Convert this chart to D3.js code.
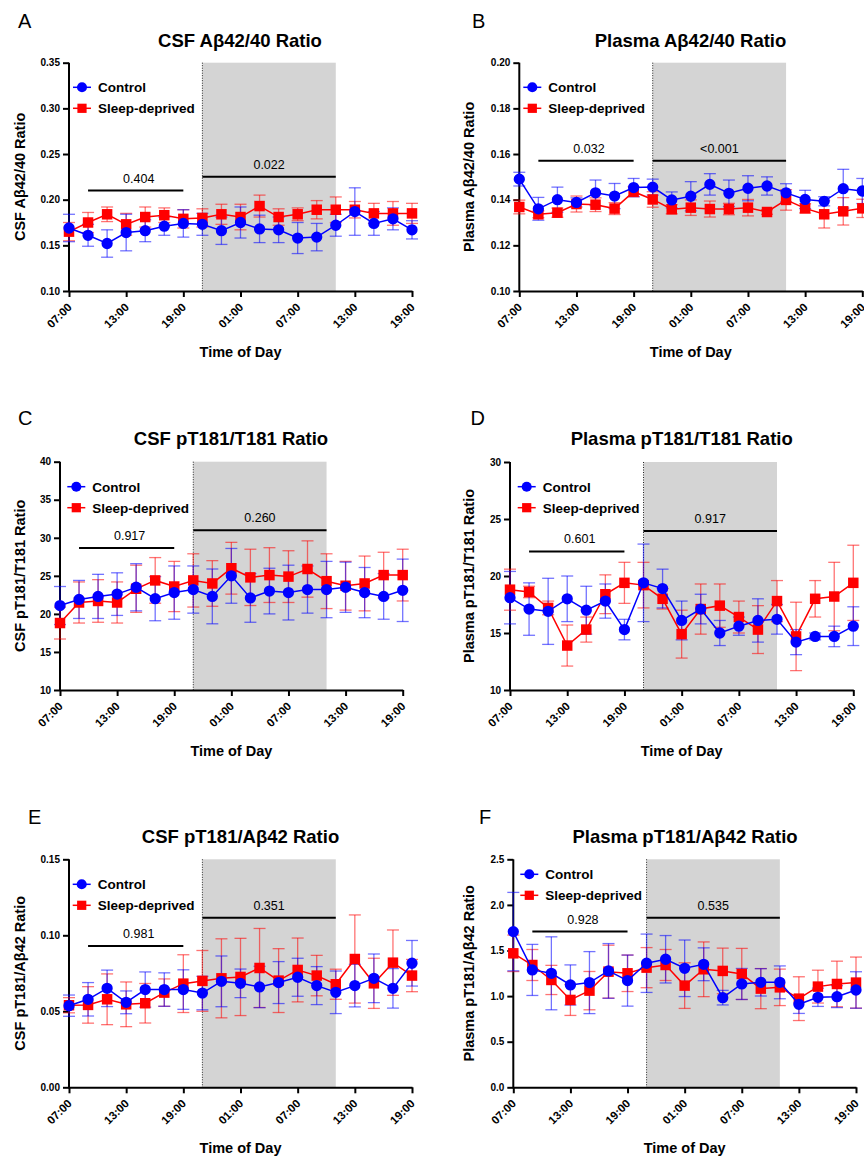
<!DOCTYPE html>
<html>
<head>
<meta charset="utf-8">
<script src="https://cdn.jsdelivr.net/npm/d3@7"></script>
<style>
  body { margin: 0; background: #fff; }
  text { font-family: "Liberation Sans", Arial, Helvetica, sans-serif; }
</style>
</head>
<body>
<svg id="fig" width="864" height="1157"></svg>
<script>
// hours since 07:00 on day 1, one sample every 2 h
var hours = [0, 2, 4, 6, 8, 10, 12, 14, 16, 18, 20, 22, 24, 26, 28, 30, 32, 34, 36]
var tickHours = [0, 6, 12, 18, 24, 30, 36]
var tickLabels = ['07:00', '13:00', '19:00', '01:00', '07:00', '13:00', '19:00']
var shadeHours = [14, 28]   // sleep-deprivation window
var leftBarHours = [2, 12]
var rightBarHours = [14, 28]
var seriesNames = ['Control', 'Sleep-deprived']

// A - CSF Ab42/40
var aCtrl = [0.169, 0.161, 0.152, 0.164, 0.166, 0.171, 0.174, 0.173, 0.166, 0.175, 0.168, 0.167, 0.158, 0.159, 0.172, 0.187, 0.174, 0.179, 0.167]
var aCtrlErr = [0.015, 0.012, 0.015, 0.020, 0.012, 0.010, 0.015, 0.012, 0.015, 0.017, 0.015, 0.014, 0.017, 0.015, 0.012, 0.026, 0.013, 0.012, 0.010]
var aSd = [0.165, 0.175, 0.184, 0.173, 0.181, 0.183, 0.179, 0.180, 0.184, 0.181, 0.193, 0.181, 0.184, 0.189, 0.189, 0.189, 0.185, 0.185, 0.185]
var aSdErr = [0.010, 0.011, 0.008, 0.012, 0.011, 0.008, 0.010, 0.010, 0.011, 0.014, 0.012, 0.009, 0.007, 0.010, 0.014, 0.009, 0.011, 0.013, 0.011]
var aTicks = [0.10, 0.15, 0.20, 0.25, 0.30, 0.35]
var aSig = ['0.404', '0.022']
var aSigY = [0.210, 0.225]

// B - Plasma Ab42/40
var bCtrl = [0.149, 0.136, 0.140, 0.1388, 0.143, 0.1416, 0.1453, 0.1455, 0.1399, 0.1415, 0.1467, 0.1428, 0.145, 0.146, 0.143, 0.1401, 0.1393, 0.1448, 0.1438]
var bCtrlErr = [0.003, 0.005, 0.0055, 0.002, 0.0056, 0.0055, 0.004, 0.0035, 0.0035, 0.0064, 0.0047, 0.0058, 0.0055, 0.004, 0.004, 0.004, 0.002, 0.0085, 0.0055]
var bSd = [0.1368, 0.1336, 0.1343, 0.1381, 0.1378, 0.1361, 0.1435, 0.1401, 0.1358, 0.1365, 0.1359, 0.1359, 0.1365, 0.1346, 0.1399, 0.1362, 0.1336, 0.1349, 0.1362]
var bSdErr = [0.003, 0.0015, 0.002, 0.0035, 0.003, 0.0026, 0.0022, 0.0034, 0.002, 0.0034, 0.0035, 0.0025, 0.0036, 0.001, 0.0045, 0.002, 0.006, 0.006, 0.004]
var bTicks = [0.10, 0.12, 0.14, 0.16, 0.18, 0.20]
var bSig = ['0.032', '<0.001']
var bSigY = [0.157, 0.157]

// C - CSF pT181/T181
var cCtrl = [21.1, 21.9, 22.3, 22.6, 23.5, 22.0, 22.8, 23.2, 22.3, 25.0, 22.1, 23.0, 22.8, 23.2, 23.2, 23.5, 22.8, 22.3, 23.1]
var cCtrlErr = [2.5, 2.5, 2.9, 2.8, 3.1, 2.9, 3.5, 3.1, 3.6, 3.6, 3.2, 3.0, 3.6, 3.1, 3.7, 3.3, 3.3, 3.0, 4.1]
var cSd = [18.8, 21.5, 21.7, 21.5, 23.3, 24.4, 23.6, 24.4, 24.0, 26.0, 24.8, 25.1, 24.9, 25.9, 24.3, 23.7, 24.0, 25.1, 25.1]
var cSdErr = [2.1, 2.7, 2.8, 2.7, 3.1, 3.0, 3.3, 3.5, 3.0, 3.4, 3.7, 3.6, 3.4, 3.7, 3.6, 3.2, 3.6, 3.0, 3.4]
var cTicks = [10, 15, 20, 25, 30, 35, 40]
var cSig = ['0.917', '0.260']
var cSigY = [28.66, 31.0]

// D - Plasma pT181/T181
var dCtrl = [18.1, 17.1, 16.9, 18.0, 17.0, 17.8, 15.3, 19.4, 18.9, 16.1, 17.1, 15.0, 15.6, 16.1, 16.2, 14.2, 14.7, 14.7, 15.6]
var dCtrlErr = [2.3, 2.3, 2.9, 2.0, 2.1, 1.5, 0.9, 3.4, 1.7, 1.7, 1.3, 1.1, 0.8, 1.9, 1.3, 1.1, 0.3, 0.9, 1.7]
var dSd = [18.8, 18.6, 17.2, 13.9, 15.3, 18.4, 19.4, 19.2, 18.0, 14.9, 17.1, 17.4, 16.4, 15.3, 17.8, 14.7, 18.0, 18.2, 19.4]
var dSdErr = [1.8, 0.5, 0.6, 1.8, 1.1, 1.7, 1.8, 2.0, 0.9, 2.1, 2.2, 1.9, 1.4, 2.1, 1.8, 3.0, 1.6, 3.0, 3.3]
var dTicks = [10, 15, 20, 25, 30]
var dSig = ['0.601', '0.917']
var dSigY = [22.16, 23.95]

// E - CSF pT181/Ab42
var eCtrl = [0.0537, 0.0579, 0.0651, 0.0559, 0.0643, 0.0643, 0.0643, 0.062, 0.0697, 0.0684, 0.066, 0.0689, 0.0724, 0.0669, 0.0625, 0.0669, 0.0717, 0.0651, 0.0816]
var eCtrlErr = [0.007, 0.011, 0.012, 0.0075, 0.0116, 0.011, 0.013, 0.011, 0.0167, 0.0094, 0.0136, 0.0138, 0.0125, 0.0125, 0.014, 0.014, 0.016, 0.013, 0.015]
var eSd = [0.054, 0.0542, 0.0579, 0.0546, 0.0553, 0.0623, 0.0682, 0.070, 0.0717, 0.0726, 0.0785, 0.0702, 0.0772, 0.0735, 0.0678, 0.0844, 0.0684, 0.082, 0.0735]
var eSdErr = [0.005, 0.012, 0.0167, 0.0147, 0.013, 0.009, 0.019, 0.020, 0.026, 0.0254, 0.026, 0.021, 0.021, 0.0133, 0.0099, 0.029, 0.0165, 0.0215, 0.0106]
var eTicks = [0.00, 0.05, 0.10, 0.15]
var eSig = ['0.981', '0.351']
var eSigY = [0.093, 0.1116]

// F - Plasma pT181/Ab42
var fCtrl = [1.707, 1.287, 1.25, 1.122, 1.148, 1.276, 1.17, 1.36, 1.404, 1.305, 1.349, 0.983, 1.133, 1.151, 1.151, 0.91, 0.987, 0.994, 1.067]
var fCtrlErr = [0.43, 0.28, 0.4, 0.22, 0.34, 0.3, 0.28, 0.32, 0.26, 0.31, 0.18, 0.08, 0.17, 0.15, 0.18, 0.1, 0.1, 0.12, 0.2]
var fSd = [1.469, 1.341, 1.177, 0.958, 1.06, 1.268, 1.25, 1.312, 1.341, 1.115, 1.294, 1.276, 1.243, 1.082, 1.096, 0.972, 1.104, 1.133, 1.148]
var fSdErr = [0.2, 0.17, 0.16, 0.17, 0.21, 0.29, 0.2, 0.22, 0.17, 0.25, 0.3, 0.25, 0.28, 0.22, 0.2, 0.24, 0.18, 0.25, 0.28]
var fTicks = [0.0, 0.5, 1.0, 1.5, 2.0, 2.5]
var fSig = ['0.928', '0.535']
var fSigY = [1.707, 1.86]

var panels = [
  {letter: 'A', title: 'CSF A\u03b242/40 Ratio', ylab: 'CSF A\u03b242/40 Ratio', ctrl: aCtrl, ctrlErr: aCtrlErr, sd: aSd, sdErr: aSdErr, ticks: aTicks, fmt: '.2f', sig: aSig, sigY: aSigY,
    x0: 69, x1: 412, yT: 62.7, yB: 291, lx: 18, ly: 28, tx: 240, ty: 46.5, ylx: 19.5, legDx: 13, legDy: 24.6},
  {letter: 'B', title: 'Plasma A\u03b242/40 Ratio', ylab: 'Plasma A\u03b242/40 Ratio', ctrl: bCtrl, ctrlErr: bCtrlErr, sd: bSd, sdErr: bSdErr, ticks: bTicks, fmt: '.2f', sig: bSig, sigY: bSigY,
    x0: 519.3, x1: 862.3, yT: 62.7, yB: 291, lx: 472, ly: 28, tx: 690.5, ty: 46.5, ylx: 469.3, legDx: 13, legDy: 24.6},
  {letter: 'C', title: 'CSF pT181/T181 Ratio', ylab: 'CSF pT181/T181 Ratio', ctrl: cCtrl, ctrlErr: cCtrlErr, sd: cSd, sdErr: cSdErr, ticks: cTicks, fmt: 'd', sig: cSig, sigY: cSigY,
    x0: 60, x1: 402.7, yT: 461.7, yB: 690, lx: 18, ly: 425, tx: 231, ty: 445, ylx: 19.5, legDx: 16.3, legDy: 25},
  {letter: 'D', title: 'Plasma pT181/T181 Ratio', ylab: 'Plasma pT181/T181 Ratio', ctrl: dCtrl, ctrlErr: dCtrlErr, sd: dSd, sdErr: dSdErr, ticks: dTicks, fmt: 'd', sig: dSig, sigY: dSigY,
    x0: 510, x1: 853.3, yT: 462, yB: 690, lx: 470.5, ly: 425, tx: 681.7, ty: 445, ylx: 469.3, legDx: 16.7, legDy: 24.7},
  {letter: 'E', title: 'CSF pT181/A\u03b242 Ratio', ylab: 'CSF pT181/A\u03b242 Ratio', ctrl: eCtrl, ctrlErr: eCtrlErr, sd: eSd, sdErr: eSdErr, ticks: eTicks, fmt: '.2f', sig: eSig, sigY: eSigY,
    x0: 69, x1: 412, yT: 859.3, yB: 1087.3, lx: 28, ly: 824.3, tx: 240.5, ty: 842.7, ylx: 19.5, legDx: 12.7, legDy: 25},
  {letter: 'F', title: 'Plasma pT181/A\u03b242 Ratio', ylab: 'Plasma pT181/A\u03b242 Ratio', ctrl: fCtrl, ctrlErr: fCtrlErr, sd: fSd, sdErr: fSdErr, ticks: fTicks, fmt: '.1f', sig: fSig, sigY: fSigY,
    x0: 513.3, x1: 856, yT: 859.3, yB: 1087.3, lx: 479, ly: 824.3, tx: 685, ty: 842.7, ylx: 469.3, legDx: 16, legDy: 15}
]

var blue = '#0000ff'
var red = '#ff0000'
var svg = d3.select('#fig')

panels.forEach(function(p) {
  var x = d3.scaleLinear().domain([0, 36]).range([p.x0, p.x1])
  var y = d3.scaleLinear().domain([p.ticks[0], p.ticks[p.ticks.length - 1]]).range([p.yB, p.yT])
  var g = svg.append('g')

  // shaded night / sleep-deprivation window
  g.append('rect')
    .attr('x', x(shadeHours[0]))
    .attr('y', p.yT)
    .attr('width', x(shadeHours[1]) - x(shadeHours[0]))
    .attr('height', p.yB - p.yT)
    .attr('fill', '#d4d4d4')
  g.append('line')
    .attr('x1', x(shadeHours[0])).attr('x2', x(shadeHours[0]))
    .attr('y1', p.yT).attr('y2', p.yB)
    .attr('stroke', '#222').attr('stroke-width', 1).attr('stroke-dasharray', '1,1.5')

  // significance bars
  var bars = [leftBarHours, rightBarHours]
  bars.forEach(function(b, i) {
    g.append('line')
      .attr('x1', x(b[0])).attr('x2', x(b[1]))
      .attr('y1', y(p.sigY[i])).attr('y2', y(p.sigY[i]))
      .attr('stroke', '#000').attr('stroke-width', 2)
    g.append('text')
      .attr('x', (x(b[0]) + x(b[1])) / 2 + (i === 0 ? 3 : 0))
      .attr('y', y(p.sigY[i]) - 8)
      .attr('text-anchor', 'middle')
      .attr('font-size', 12.5)
      .text(p.sig[i])
  })

  // axes
  var yAxis = g.append('g')
    .attr('transform', 'translate(' + p.x0 + ',0)')
    .call(d3.axisLeft(y).tickValues(p.ticks).tickFormat(d3.format(p.fmt)).tickSize(6).tickSizeOuter(0).tickPadding(3))
  var xAxis = g.append('g')
    .attr('transform', 'translate(0,' + p.yB + ')')
    .call(d3.axisBottom(x).tickValues(tickHours).tickFormat(function(d, i) { return tickLabels[i] }).tickSize(6).tickSizeOuter(0))
  ;[yAxis, xAxis].forEach(function(a) {
    a.select('.domain').attr('stroke', '#000').attr('stroke-width', 2)
    a.selectAll('.tick line').attr('stroke', '#000').attr('stroke-width', 2)
    a.selectAll('text').attr('fill', '#000').attr('font-weight', 'bold').attr('font-size', 10)
      .attr('font-family', '"Liberation Sans", Arial, sans-serif')
  })
  xAxis.selectAll('.tick text')
    .attr('font-size', 11.5)
    .attr('text-anchor', 'end')
    .attr('dy', null)
    .attr('y', null)
    .attr('transform', 'translate(3,17) rotate(-45)')
  yAxis.select('.domain').attr('d', 'M0,' + (p.yB + 1) + 'V' + p.yT)

  // series: error bars, lines, markers
  var series = [
    {vals: p.sd, errs: p.sdErr, color: red, shape: 'square'},
    {vals: p.ctrl, errs: p.ctrlErr, color: blue, shape: 'circle'}
  ]
  series.forEach(function(s) {
    var eg = g.append('g').attr('stroke', s.color).attr('stroke-opacity', 0.55).attr('stroke-width', 1.3)
    hours.forEach(function(h, i) {
      var cx = x(h), lo = y(s.vals[i] - s.errs[i]), hi = y(s.vals[i] + s.errs[i])
      eg.append('line').attr('x1', cx).attr('x2', cx).attr('y1', lo).attr('y2', hi)
      eg.append('line').attr('x1', cx - 6).attr('x2', cx + 6).attr('y1', lo).attr('y2', lo)
      eg.append('line').attr('x1', cx - 6).attr('x2', cx + 6).attr('y1', hi).attr('y2', hi)
    })
  })
  series.forEach(function(s) {
    var line = d3.line().x(function(d, i) { return x(hours[i]) }).y(function(d) { return y(d) })
    g.append('path').datum(s.vals)
      .attr('d', line).attr('fill', 'none').attr('stroke', s.color).attr('stroke-width', 1.5)
    var sym = d3.symbol().type(s.shape === 'circle' ? d3.symbolCircle : d3.symbolSquare).size(s.shape === 'circle' ? 100 : 110)
    g.selectAll(null).data(s.vals).enter().append('path')
      .attr('d', sym)
      .attr('transform', function(d, i) { return 'translate(' + x(hours[i]) + ',' + y(d) + ')' })
      .attr('fill', s.color)
  })

  // legend
  var legX = p.x0 + p.legDx
  var leg = [
    {name: seriesNames[0], color: blue, shape: d3.symbolCircle, size: 80, dy: p.legDy},
    {name: seriesNames[1], color: red, shape: d3.symbolSquare, size: 85, dy: p.legDy + 21}
  ]
  leg.forEach(function(l) {
    var ly = p.yT + l.dy
    g.append('line').attr('x1', legX - 9).attr('x2', legX + 9).attr('y1', ly).attr('y2', ly)
      .attr('stroke', l.color).attr('stroke-width', 1.5)
    g.append('path').attr('d', d3.symbol().type(l.shape).size(l.size)())
      .attr('transform', 'translate(' + legX + ',' + ly + ')').attr('fill', l.color)
    g.append('text').attr('x', legX + 16).attr('y', ly + 5)
      .attr('font-size', 13.5).attr('font-weight', 'bold').text(l.name)
  })

  // titles and labels
  g.append('text').attr('x', p.lx).attr('y', p.ly).attr('font-size', 20).text(p.letter)
  g.append('text').attr('x', p.tx).attr('y', p.ty).attr('text-anchor', 'middle')
    .attr('font-size', 18.5).attr('font-weight', 'bold').text(p.title)
  g.append('text')
    .attr('transform', 'translate(' + (p.ylx + 5) + ',' + (p.yT + p.yB) / 2 + ') rotate(-90)')
    .attr('text-anchor', 'middle').attr('font-size', 14.5).attr('font-weight', 'bold').text(p.ylab)
  g.append('text').attr('x', (p.x0 + p.x1) / 2).attr('y', p.yB + 66).attr('text-anchor', 'middle')
    .attr('font-size', 14.5).attr('font-weight', 'bold').text('Time of Day')
})
</script>
</body>
</html>
